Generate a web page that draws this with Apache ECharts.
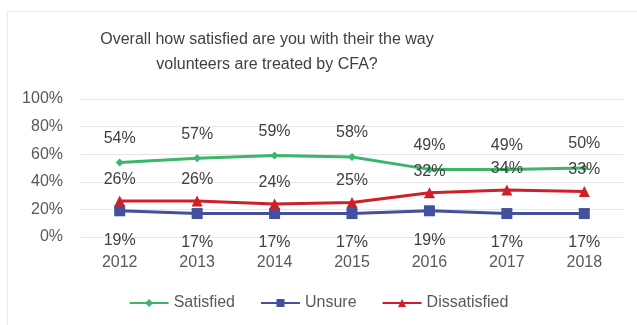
<!DOCTYPE html>
<html><head><meta charset="utf-8">
<script src="https://cdn.jsdelivr.net/npm/echarts@6/dist/echarts.min.js"></script>
<style>html,body{margin:0;padding:0;background:#fff}#c{width:637px;height:325px}</style>
</head><body><div id="c"></div>
<script>
const years = ['2012','2013','2014','2015','2016','2017','2018'];
const satisfied = [54,57,59,58,49,49,50];
const unsure = [19,17,17,17,19,17,17];
const dissatisfied = [26,26,24,25,32,34,33];
const yTicks = [0,20,40,60,80,100];
const titleText = 'Overall how satisfied are you with their the way\nvolunteers are treated by CFA?';

const chart = echarts.init(document.getElementById('c'));
const font = 'Liberation Sans';
chart.setOption({
  backgroundColor: '#fff',
  animation: false,
  graphic: [
    {type: 'rect', left: 5, top: 9, shape: {width: 640, height: 330}, style: {fill: 'none', stroke: '#ebebeb', lineWidth: 1}, silent: true},
    {type: 'text', x: 267, y: 27, style: {text: titleText, align: 'center', verticalAlign: 'top', font: '16px "Liberation Sans"', fill: '#404040', lineHeight: 25}}
  ],
  legend: {
    top: 290, left: 'center', itemGap: 25, itemWidth: 39, itemHeight: 10,
    textStyle: {fontFamily: font, fontSize: 16, color: '#595959'},
    data: ['Satisfied','Unsure','Dissatisfied']
  },
  grid: {left: 81, right: 14, top: 99, bottom: 88},
  xAxis: {
    type: 'category', data: years, boundaryGap: true,
    axisLine: {show: false}, axisTick: {show: false},
    axisLabel: {fontFamily: font, fontSize: 16, color: '#595959', margin: 18}
  },
  yAxis: {
    type: 'value', min: 0, max: 100, interval: 20,
    axisLabel: {formatter: v => yTicks.includes(v) ? v + '%' : '', fontFamily: font, fontSize: 16, color: '#595959', margin: 18},
    splitLine: {lineStyle: {color: '#e6e6e6'}},
    axisLine: {show: false}, axisTick: {show: false}
  },
  series: [
    {name: 'Satisfied', type: 'line', data: satisfied, color: '#3db56a',
     symbol: 'diamond', symbolSize: 8, lineStyle: {width: 3},
     label: {show: true, position: 'top', distance: 12, formatter: '{c}%', fontFamily: font, fontSize: 16, color: '#404040'}},
    {name: 'Unsure', type: 'line', data: unsure, color: '#42509e',
     symbol: 'rect', symbolSize: 11, lineStyle: {width: 3},
     label: {show: true, position: 'bottom', distance: 16, formatter: '{c}%', fontFamily: font, fontSize: 16, color: '#404040'}},
    {name: 'Dissatisfied', type: 'line', data: dissatisfied, color: '#cf202a',
     symbol: 'triangle', symbolSize: 11, lineStyle: {width: 3},
     label: {show: true, position: 'top', distance: 8, formatter: '{c}%', fontFamily: font, fontSize: 16, color: '#404040'}}
  ]
});
</script></body></html>
